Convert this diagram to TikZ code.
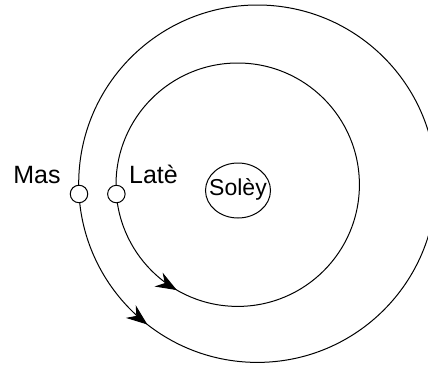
\documentclass[tikz,border=0pt]{standalone}
\usepackage{fontspec}
\setmainfont{Liberation Sans}
\usetikzlibrary{arrows.meta,decorations.markings}
\begin{document}
\begin{tikzpicture}[x=1pt,y=1pt,
  orbit/.style={draw=black,line width=1pt},
  planet/.style={circle,draw=black,fill=white,line width=1pt,minimum size=17.5pt,inner sep=0pt},
  lbl/.style={anchor=base,inner sep=0pt,font=\fontsize{25}{30}\selectfont},
  tipmark/.style={decoration={markings,mark=at position 1 with {\arrow[line width=1pt]{Stealth[length=21pt,width=16pt,inset=7pt]}}},decorate}]
\useasboundingbox (0,0) rectangle (428,368);
\clip (0,0) rectangle (428,368);
\coordinate (ci) at (237.7,183.3);
\coordinate (co) at (257.4,184.3);
% orbits
\draw[orbit] (ci) circle (121.7);
\draw[orbit] (co) circle (178.7);
% sun
\draw[orbit] (238,177.5) ellipse (32.5 and 27.5);
\node[inner sep=0pt,anchor=base,font=\fontsize{23}{28}\selectfont] (sun) at (238,173) {Solèy};
% arrowheads along orbits
\path[tipmark] ([shift={(230:121.7)}]ci) arc (230:240:121.7);
\path[tipmark] ([shift={(222:178.7)}]co) arc (222:232:178.7);
% planets
\node[planet] (late) at ([shift={(184.4:121.7)}]ci) {};
\node[planet] (mas) at ([shift={(183.3:178.7)}]co) {};
\node[lbl] (lmas) at (37,184.7) {Mas};
\node[lbl] (llate) at (153.5,184.7) {Latè};
\end{tikzpicture}
\end{document}
